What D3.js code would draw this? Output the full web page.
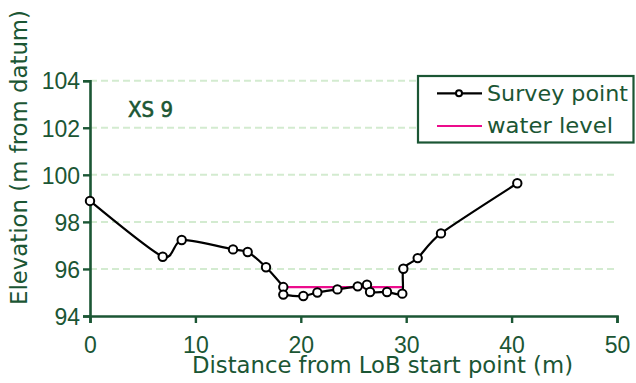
<!DOCTYPE html>
<html>
<head>
<meta charset="utf-8">
<script src="https://cdn.jsdelivr.net/npm/d3@7"></script>
<style>
  html, body { margin: 0; padding: 0; background: #fff; }
  svg { display: block; }
</style>
</head>
<body>
<svg id="chart" width="636" height="383"></svg>
<script>
// Cross-section XS 9: surveyed bed profile and water surface
const distance = [0, 6.9, 8.7, 13.57, 14.96, 16.7, 18.34, 18.34, 20.24, 21.57, 23.47, 25.4, 26.28, 26.57, 28.18, 29.63, 29.73, 31.09, 33.3, 40.54];
const elevation = [98.89, 96.52, 97.23, 96.83, 96.72, 96.07, 95.23, 94.91, 94.85, 95.0, 95.13, 95.26, 95.33, 95.02, 95.02, 94.95, 96.01, 96.46, 97.51, 99.64];
const waterDistance = [18.34, 29.73];
const waterElevation = [95.23, 95.23];
const xTicks = [0, 10, 20, 30, 40, 50];
const yTicks = [94, 96, 98, 100, 102, 104];
const gridValues = [96, 98, 100, 102, 104];

const GREEN = "#1b5634";
const GRID = "#d3ebd0";
const WORD_FONT = "'DejaVu Sans', sans-serif";
const NUM_FONT = "'Liberation Sans', Arial, sans-serif";

const svg = d3.select("#chart");
const x = d3.scaleLinear().domain([0, 50]).range([90, 617]);
const y = d3.scaleLinear().domain([94, 104]).range([316, 80.7]);

// dashed horizontal gridlines
svg.append("g").selectAll("line").data(gridValues).join("line")
  .attr("x1", x(0)).attr("x2", x(50))
  .attr("y1", d => y(d)).attr("y2", d => y(d))
  .attr("stroke", GRID).attr("stroke-width", 2)
  .attr("stroke-dasharray", "7,4");

// axes
const xAxis = svg.append("g").attr("transform", `translate(0,${y(94)})`)
  .call(d3.axisBottom(x).tickValues(xTicks).tickSize(7).tickPadding(14).tickFormat(d3.format("d")));
const yAxis = svg.append("g").attr("transform", `translate(${x(0)},0)`)
  .call(d3.axisLeft(y).tickValues(yTicks).tickSize(7).tickPadding(3).tickFormat(d3.format("d")));
[xAxis, yAxis].forEach(g => {
  g.select(".domain").attr("stroke", GREEN).attr("stroke-width", 2.6);
  g.selectAll(".tick line").attr("stroke", GREEN).attr("stroke-width", 2.4);
  g.selectAll(".tick text").attr("fill", GREEN)
    .style("font-family", NUM_FONT).style("font-size", "23px");
});
yAxis.selectAll(".tick text").attr("dy", "0.36em");
xAxis.selectAll(".tick text").attr("dy", "0.7em");

// water surface
const line = d3.line().x(d => x(d[0])).y(d => y(d[1]));
svg.append("path")
  .datum(waterDistance.map((d, i) => [d, waterElevation[i]]))
  .attr("d", line)
  .attr("fill", "none").attr("stroke", "#ec0c8c").attr("stroke-width", 2.2);

// survey profile (smoothed) with point markers
const pts = distance.map((d, i) => [d, elevation[i]]);
svg.append("path").datum(pts)
  .attr("d", line.curve(d3.curveCardinal.tension(0.3)))
  .attr("fill", "none").attr("stroke", "#000").attr("stroke-width", 2.2);
svg.append("g").selectAll("circle").data(pts).join("circle")
  .attr("cx", d => x(d[0])).attr("cy", d => y(d[1])).attr("r", 4.2)
  .attr("fill", "#fff").attr("stroke", "#000").attr("stroke-width", 2);

// section label
svg.append("text").attr("x", 128).attr("y", 116.5)
  .attr("fill", GREEN).attr("stroke", GREEN).attr("stroke-width", 0.6)
  .style("font-family", WORD_FONT).style("font-size", "20.5px")
  .attr("textLength", 45).attr("lengthAdjust", "spacingAndGlyphs")
  .text("XS 9");

// legend
const lg = svg.append("g");
lg.append("rect").attr("x", 418).attr("y", 76).attr("width", 215.5).attr("height", 66.5)
  .attr("fill", "#fff").attr("stroke", GREEN).attr("stroke-width", 2.2);
lg.append("line").attr("x1", 437).attr("x2", 482).attr("y1", 93.3).attr("y2", 93.3)
  .attr("stroke", "#000").attr("stroke-width", 2.2);
lg.append("circle").attr("cx", 459).attr("cy", 93.3).attr("r", 3)
  .attr("fill", "#fff").attr("stroke", "#000").attr("stroke-width", 2);
lg.append("line").attr("x1", 437).attr("x2", 482).attr("y1", 126).attr("y2", 126)
  .attr("stroke", "#ec0c8c").attr("stroke-width", 2.2);
lg.append("text").attr("x", 487).attr("y", 100.5).attr("fill", GREEN)
  .style("font-family", WORD_FONT).style("font-size", "22px")
  .attr("textLength", 141).attr("lengthAdjust", "spacingAndGlyphs").text("Survey point");
lg.append("text").attr("x", 487).attr("y", 133.3).attr("fill", GREEN)
  .style("font-family", WORD_FONT).style("font-size", "22px")
  .attr("textLength", 126).attr("lengthAdjust", "spacingAndGlyphs").text("water level");

// axis titles
svg.append("text").attr("x", 192).attr("y", 373).attr("fill", GREEN)
  .style("font-family", WORD_FONT).style("font-size", "22.5px")
  .attr("textLength", 381).attr("lengthAdjust", "spacingAndGlyphs")
  .text("Distance from LoB start point (m)");
svg.append("text").attr("transform", "translate(27,305) rotate(-90)").attr("fill", GREEN)
  .style("font-family", WORD_FONT).style("font-size", "23px")
  .attr("textLength", 295).attr("lengthAdjust", "spacingAndGlyphs")
  .text("Elevation (m from datum)");
</script>
</body>
</html>
